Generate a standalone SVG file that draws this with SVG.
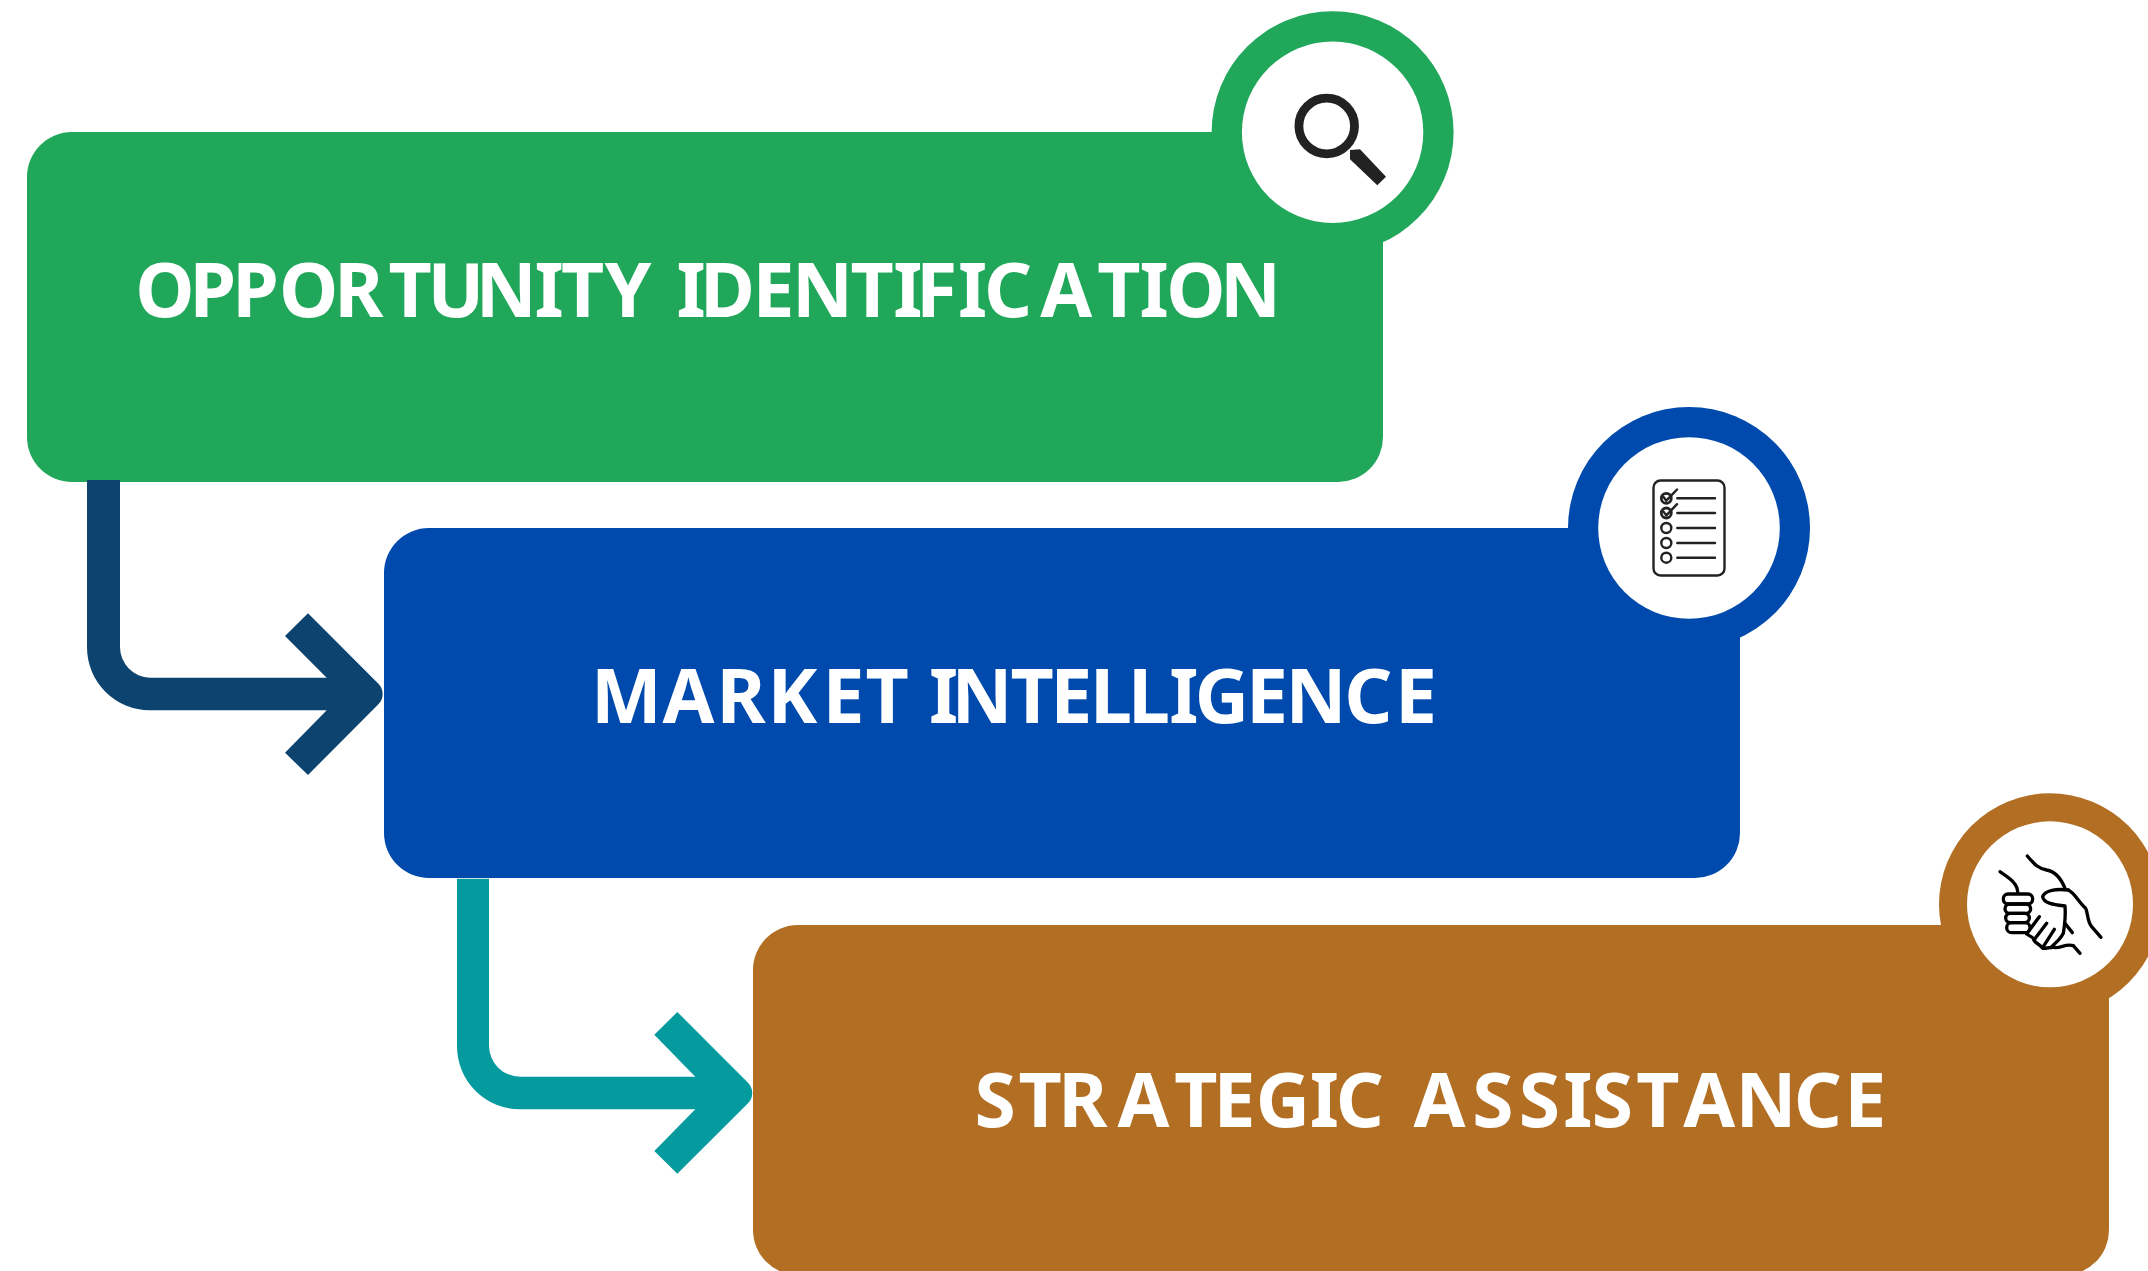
<svg xmlns="http://www.w3.org/2000/svg" width="2148" height="1271" viewBox="0 0 2148 1271">
<style>
.t{font-family:"Noto Sans","Liberation Sans",sans-serif;font-weight:700;font-size:75px;fill:#fff}
.w{fill:#fff}
.line{fill:none;stroke:#222;stroke-linecap:round;stroke-linejoin:round}
.hand{fill:none;stroke:#000;stroke-width:10;stroke-linecap:round;stroke-linejoin:round}
</style>
<rect width="2148" height="1271" fill="#fff"/>
<g id="node-opportunity">
<rect x="27" y="132" width="1356" height="350" rx="45" fill="#20A75A"/>
<circle cx="1332.6" cy="132.3" r="121" fill="#20A75A"/>
<circle class="w" cx="1332.6" cy="132.3" r="90.7"/>
<circle cx="1326.7" cy="126" r="27.8" fill="none" stroke="#222" stroke-width="8.8"/>
<path d="M1350,150 L1360,149.3 L1386,176.7 L1377.3,185.3 L1350,159.3Z" fill="#222"/>
<text class="t" y="317" x="135.2 189.5 232.3 279 334.3 388.5 427.5 475.7 534.5 561 604.5 650 676.5 700 752.5 792 850.5 893.3 916 958 984 1040.3 1097.2 1139.6 1166.3 1220">OPPORTUNITY IDENTIFICATION</text>
</g>
<g id="node-market">
<rect x="384" y="528" width="1356" height="350" rx="45" fill="#004AAD"/>
<circle cx="1689" cy="528" r="121" fill="#004AAD"/>
<circle class="w" cx="1689" cy="528" r="90.8"/>
<rect class="line" x="1653.5" y="480.5" width="71" height="95" rx="7" stroke-width="2.4"/>
<g class="line" stroke-width="2.4">
<circle cx="1666.3" cy="498.3" r="5" stroke-width="2.8"/><circle cx="1666.3" cy="513" r="5" stroke-width="2.8"/><circle cx="1666.3" cy="528" r="5"/><circle cx="1666.3" cy="543" r="5"/><circle cx="1666.3" cy="557.7" r="5"/>
<path d="M1677.3,498.3H1715M1677.3,513H1715M1677.3,528H1715M1677.3,543H1715M1677.3,557.7H1715"/>
<path d="M1663.3,496.7L1666.3,500.7L1677,489.5M1663.3,511.4L1666.3,515.4L1677,504.2"/>
</g>
<text class="t" y="723.3" x="591 662.5 716.6 767.6 822.6 865.5 910 929 951.6 1010.5 1050.3 1090 1128 1169.3 1194.8 1246 1285.6 1344.2 1395">MARKET INTELLIGENCE</text>
</g>
<g id="node-strategic">
<rect x="753" y="925" width="1356" height="350" rx="45" fill="#B26E23"/>
<circle cx="2050" cy="904.3" r="111" fill="#B26E23"/>
<circle class="w" cx="2050" cy="904.3" r="83"/>
<g transform="translate(1920,780) scale(.3333)" class="hand">
<path d="M240,275C265,292 295,310 293,340"/>
<rect x="250" y="342" width="88" height="30" rx="14"/><rect x="255" y="372" width="77" height="28" rx="14"/><rect x="257" y="400" width="71" height="28" rx="14"/><rect x="260" y="428" width="70" height="30" rx="15"/>
<path d="M322,228C345,255 355,265 380,270C410,275 425,300 435,325"/>
<path d="M445,330C465,340 475,365 497,385C505,400 500,420 515,440L543,472"/>
<path d="M445,330C410,326 375,330 368,350C370,372 410,375 435,378C437,400 435,430 430,460C420,480 405,490 395,500"/>
<path d="M435,430L457,458"/>
<path d="M358,410L320,462C330,470 340,470 342,480C345,490 355,488 368,505C385,505 395,500 408,503C425,503 440,490 460,497L480,520"/>
<path d="M380,430L342,480M403,448L368,503"/>
</g>
<text class="t" y="1127.3" x="974.5 1018.5 1058.3 1117.5 1174.2 1213.6 1255.8 1309.7 1335.8 1390 1413.5 1472.2 1518.8 1563.3 1591.8 1636.2 1683.2 1735.6 1793.8 1844.3">STRATEGIC ASSISTANCE</text>
</g>
<g id="connectors">
<path id="arrow-1" fill="#0C436F" d="M87,480H120V647A30.7,30.7 0 0 0 150,677.7H326.7L285,636L308,613.3L378.4,683.75A14.5,14.5 0 0 1 378.4,704.25L308,775L285,752.7L326.7,710.3H150A63,63 0 0 1 87,647Z"/>
<path id="arrow-2" fill="#049A9E" d="M457,878.7H489V1046A31,31 0 0 0 520,1076.7H695.3L654.3,1034.7L677.3,1012L748,1082.75A14.5,14.5 0 0 1 748,1103.25L677.3,1173.7L654.3,1151L695.3,1109.3H520A63,63 0 0 1 457,1046Z"/>
</g>
</svg>
